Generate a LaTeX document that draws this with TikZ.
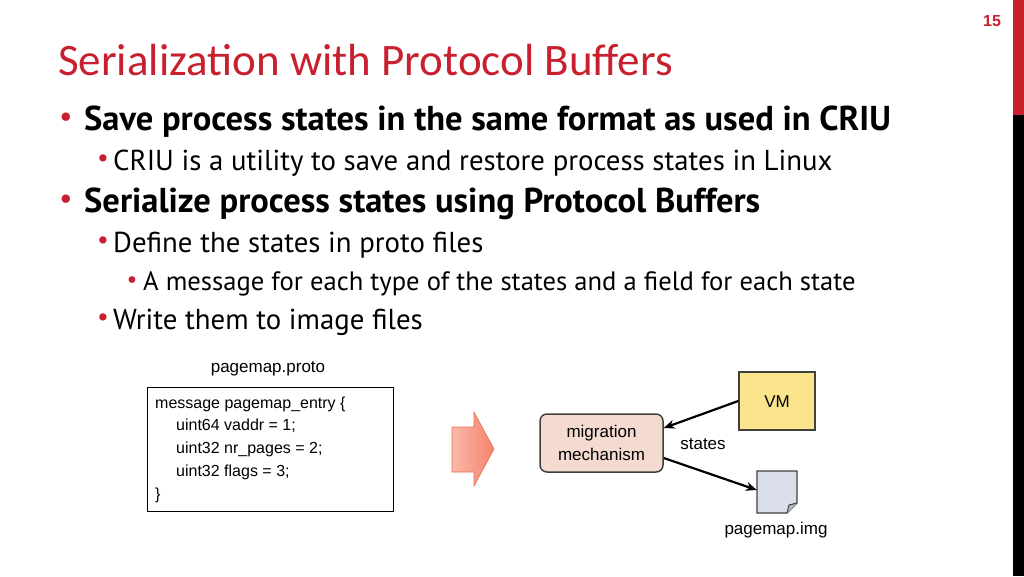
\documentclass[tikz,border=0pt]{standalone}
\usepackage{fontspec}
\setmainfont{PT Sans}
\newfontfamily\titlefont{Carlito}
\newfontfamily\arialfont{Liberation Sans}
\usetikzlibrary{arrows.meta}
\definecolor{cred}{HTML}{C8202F}
\tikzset{
 lone/.style={anchor=west,inner sep=0pt,font=\fontsize{34.5}{36}\selectfont\bfseries},
 ltwo/.style={anchor=west,inner sep=0pt,font=\fontsize{28.8}{32}\selectfont},
 lthree/.style={anchor=west,inner sep=0pt,font=\fontsize{26.6}{30}\selectfont},
 bul/.style={anchor=center,inner sep=0pt,text=cred},
 ctext/.style={anchor=west,inner sep=0pt,font=\arialfont\fontsize{16}{19}\selectfont},
 dtext/.style={inner sep=0pt,font=\arialfont\fontsize{17}{20}\selectfont,align=center},
 conn/.style={draw=black,line width=2.2pt,-{Stealth[length=11pt,width=9pt]}}
}
\begin{document}
\begin{tikzpicture}[x=1pt,y=-1pt]
\useasboundingbox (0,0) rectangle (1024,576);
\fill[cred] (1013,0) rectangle (1024,115);
\fill[black] (1013,115) rectangle (1024,576);
\node[inner sep=0pt,text=cred,font=\arialfont\bfseries\fontsize{16}{18}\selectfont] (pg) at (992,21) {15};
\node[anchor=base west,inner sep=0pt,text=cred,font=\titlefont\fontsize{45}{48}\selectfont] (title) at (58,75) {Serialization with Protocol Buffers};
\node[bul,font=\fontsize{30}{32}\selectfont] (b1) at (66,120) {•};
\node[lone] (t1) at (84,122) {Save process states in the same format as used in CRIU};
\node[bul,font=\fontsize{26}{28}\selectfont] (b2) at (103,161) {•};
\node[ltwo] (t2) at (113,163) {CRIU is a utility to save and restore process states in Linux};
\node[bul,font=\fontsize{30}{32}\selectfont] (b3) at (66,202) {•};
\node[lone] (t3) at (84,204) {Serialize process states using Protocol Buffers};
\node[bul,font=\fontsize{26}{28}\selectfont] (b4) at (103,243) {•};
\node[ltwo] (t4) at (113,245) {Define the states in proto files};
\node[bul,font=\fontsize{24}{26}\selectfont] (b5) at (132,282) {•};
\node[lthree] (t5) at (143,284) {A message for each type of the states and a field for each state};
\node[bul,font=\fontsize{26}{28}\selectfont] (b6) at (103,320) {•};
\node[ltwo] (t6) at (113,322) {Write them to image files};
% code box
\node[dtext] (proto) at (268,369) {pagemap.proto};
\draw[line width=0.8pt] (147,387) rectangle (393,511);
\node[ctext] (c1) at (155,404) {message pagemap\_entry \{};
\node[ctext] (c2) at (176,426) {uint64 vaddr = 1;};
\node[ctext] (c3) at (176,449) {uint32 nr\_pages = 2;};
\node[ctext] (c4) at (176,472) {uint32 flags = 3;};
\node[ctext] (c5) at (155,495) {\}};
% big arrow
\shade[left color={rgb,255:red,250;green,185;blue,170},right color={rgb,255:red,245;green,130;blue,110},draw={rgb,255:red,235;green,110;blue,80},line width=0.6pt]
 (452,427) -- (474,427) -- (474,412) -- (494,449) -- (474,486) -- (474,472) -- (452,472) -- cycle;
% nodes
\node[draw=black!75,line width=1.5pt,fill={rgb,255:red,244;green,218;blue,207},rounded corners=7pt,minimum width=123pt,minimum height=58pt,dtext] (mig) at (601.5,443) {migration\\[3pt]mechanism};
\node[draw=black!75,line width=1.5pt,fill={rgb,255:red,250;green,228;blue,140},minimum width=76pt,minimum height=58pt,inner sep=0pt] (vm) at (777,401) {};
\node[dtext] (vmt) at (777,402) {VM};
\node[draw=none,minimum width=40pt,minimum height=42pt,inner sep=0pt] (img) at (777,492) {};
\draw[draw=black!75,line width=1.3pt,fill={rgb,255:red,218;green,222;blue,233}]
 (757,471) -- (797,471) -- (797,503) -- (787,513) -- (757,513) -- cycle;
\draw[draw=black!75,line width=1pt,fill={rgb,255:red,180;green,185;blue,195}] (797,503) -- (789,505) -- (787,513);
\node[dtext] (imgt) at (776,530) {pagemap.img};
\node[dtext] (st) at (703,444) {states};
\draw[conn] (vm.west) -- (mig.east |- 0,428);
\draw[conn] (mig.east |- 0,458) -- (img.west |- 0,490);
\end{tikzpicture}
\end{document}
